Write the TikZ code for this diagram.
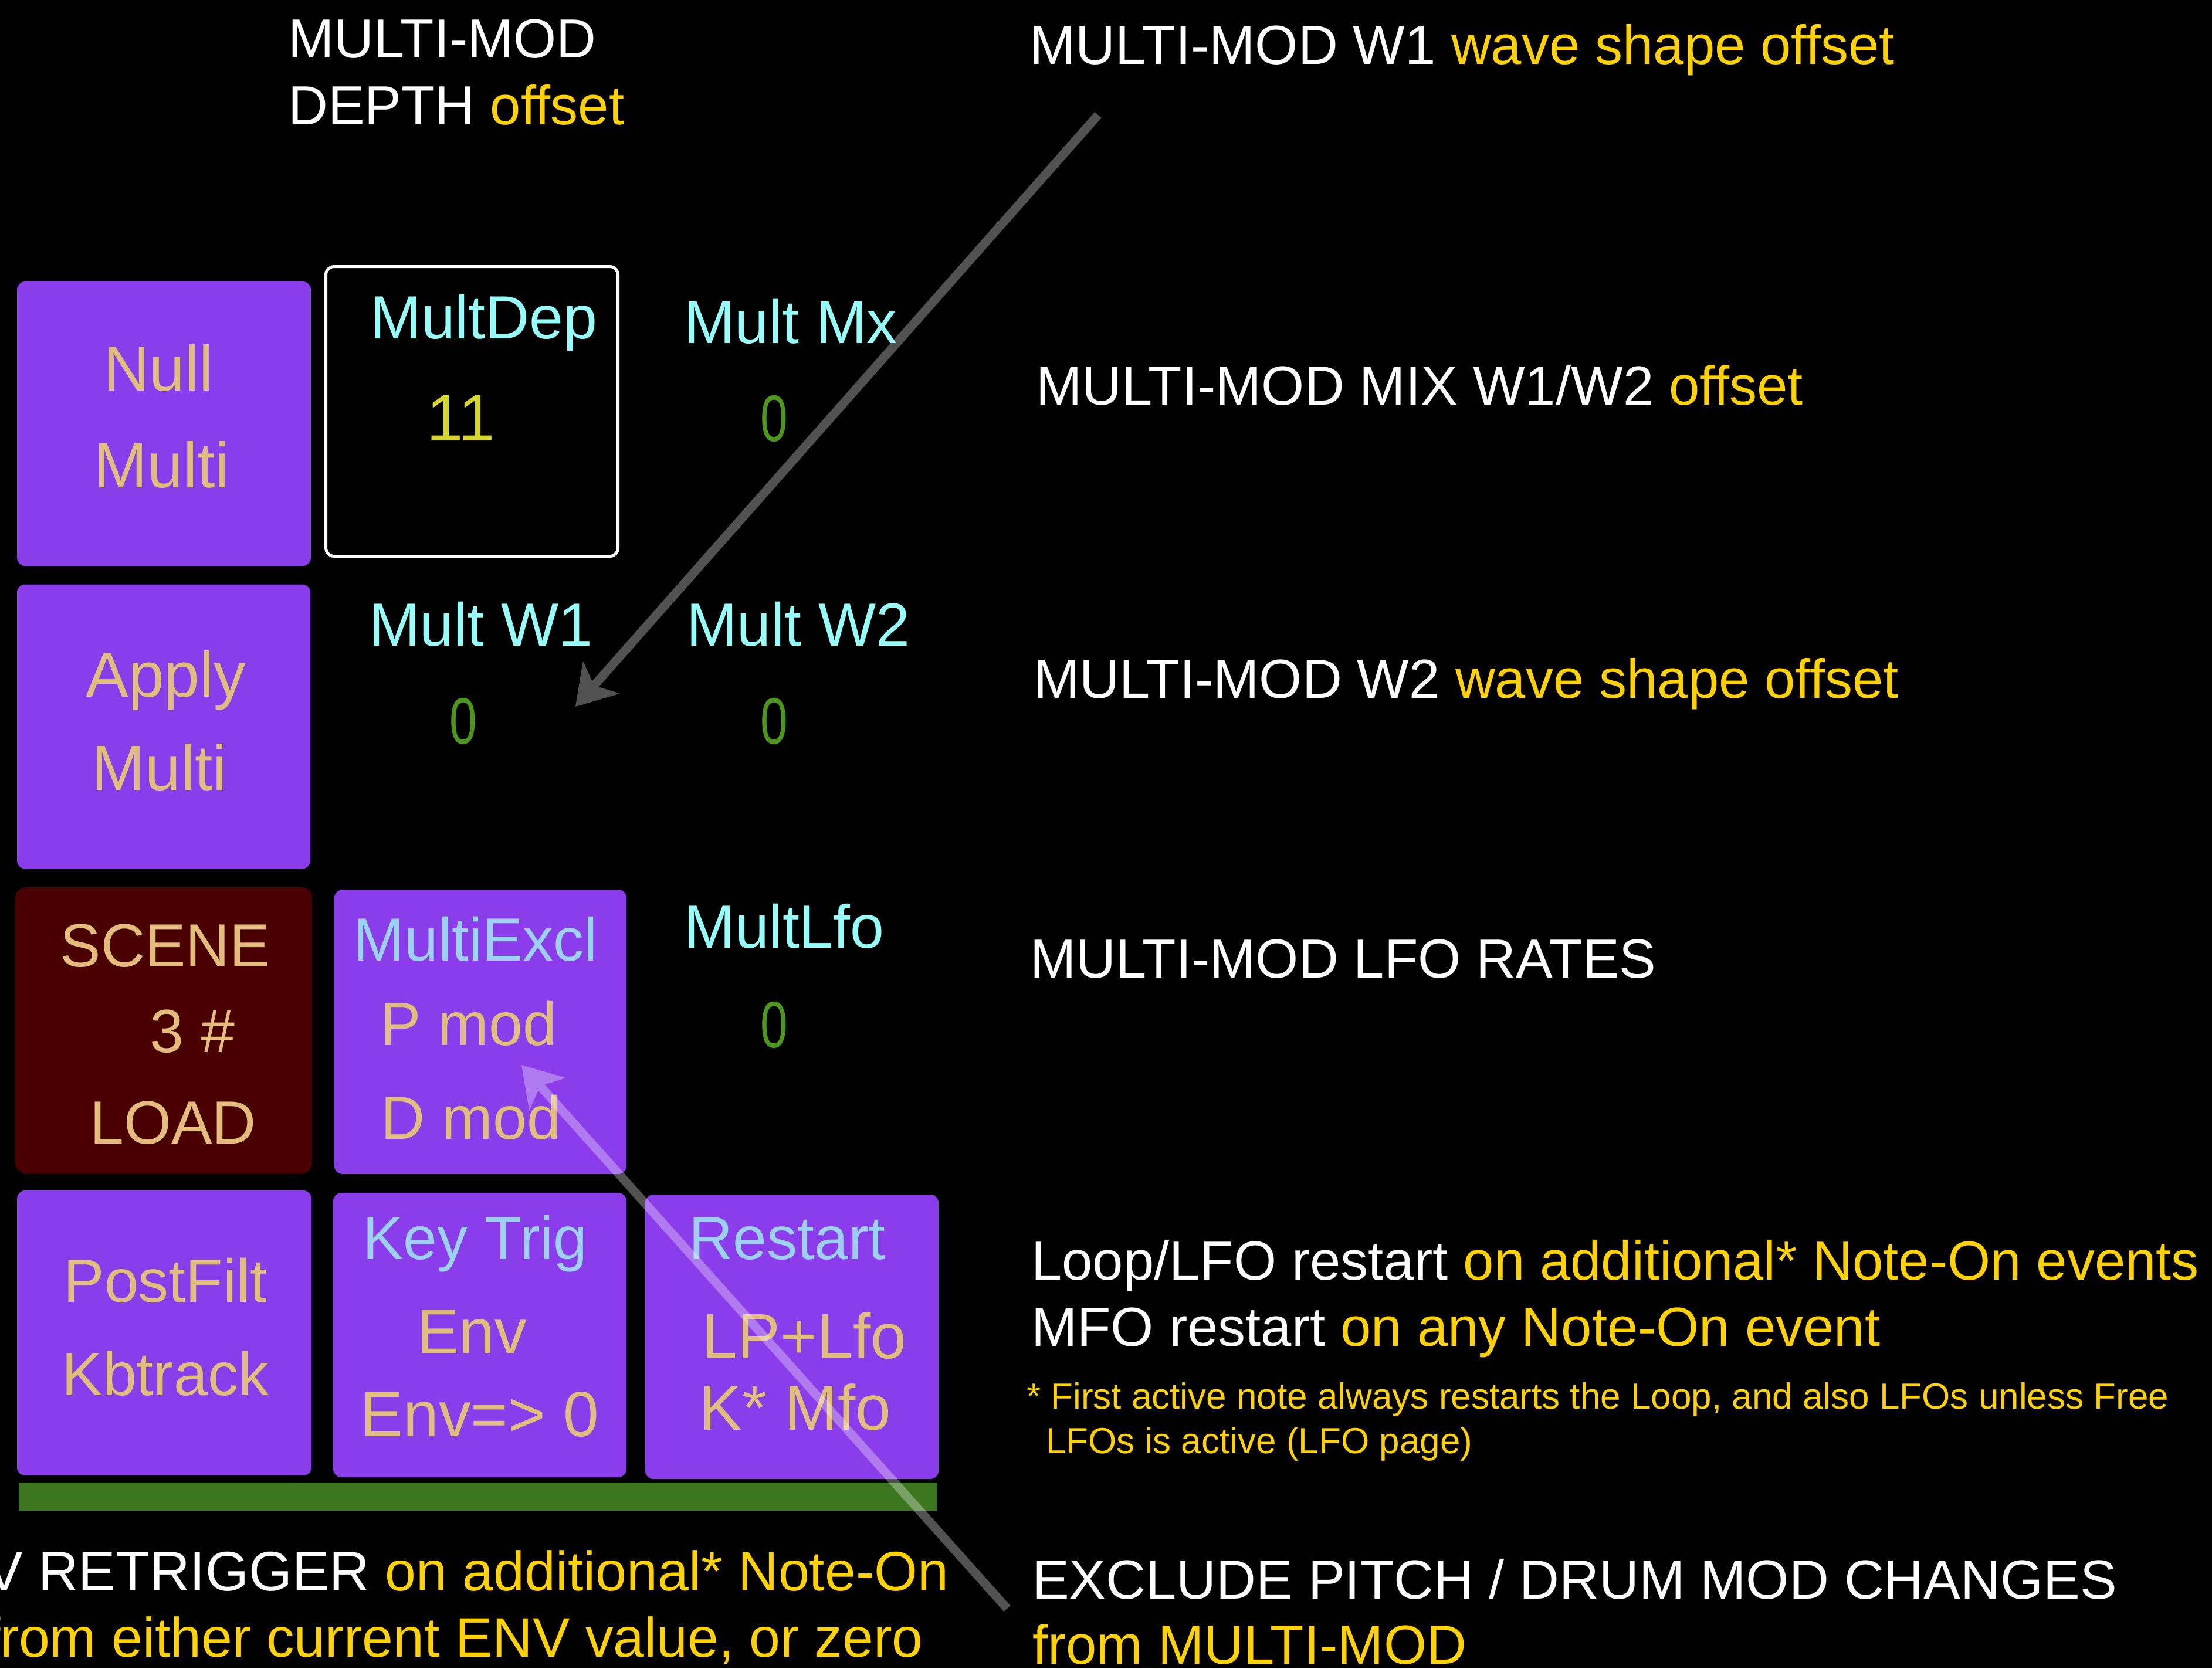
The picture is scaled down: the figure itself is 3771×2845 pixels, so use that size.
\documentclass[tikz,border=0pt]{standalone}
\usepackage{fontspec}
\usepackage{graphicx}
\setmainfont{Liberation Sans}
\usetikzlibrary{arrows.meta}
\definecolor{pbg}{RGB}{139,61,235}
\definecolor{rbg}{RGB}{75,0,0}
\definecolor{gbar}{RGB}{60,118,30}
\definecolor{tan}{RGB}{228,188,123}
\definecolor{cyanl}{RGB}{150,255,250}
\definecolor{bluel}{RGB}{155,209,242}
\definecolor{hl}{RGB}{255,210,0}
\definecolor{valg}{RGB}{78,150,30}
\definecolor{valy}{RGB}{215,215,50}
\tikzset{
  pbox/.style={fill=pbg, draw=none, rounded corners=14pt, inner sep=0pt, minimum width=500pt, minimum height=485pt},
  rbox/.style={fill=rbg, draw=none, rounded corners=18pt, inner sep=0pt, minimum width=506pt, minimum height=488pt},
  wbox/.style={fill=black, draw=white, line width=5pt, rounded corners=14pt, inner sep=0pt, minimum width=498pt, minimum height=494pt},
  lbl/.style={inner sep=0pt, anchor=base},
  big/.style={lbl, font=\fontsize{109}{120}\selectfont},
  std/.style={lbl, font=\fontsize{104}{120}\selectfont},
  val/.style={inner sep=0pt, anchor=center, font=\fontsize{112}{120}\selectfont},
  desc/.style={inner sep=0pt, anchor=base west, text=white, font=\fontsize{94}{110}\selectfont},
  descr/.style={inner sep=0pt, anchor=base east, text=white, font=\fontsize{95}{110}\selectfont},
  fnote/.style={inner sep=0pt, anchor=base west, text=hl, font=\fontsize{62}{70}\selectfont},
  hint/.style={line width=15pt, draw=white, fill=white, -{Stealth[length=66pt,width=82pt,inset=18pt]}}
}
\begin{document}
\begin{tikzpicture}[x=1pt, y=-1pt]
\useasboundingbox (0,0) rectangle (3771,2845);
\fill[black] (0,0) rectangle (3771,2845);

% boxes
\node[pbox, minimum width=501pt] (null) at (279.5,722.5) {};
\node[wbox] (multdep) at (804.5,701.5) {};
\node[pbox] (apply) at (279,1239) {};
\node[rbox] (scene) at (279,1757) {};
\node[pbox, minimum width=498pt] (multiexcl) at (819,1759.5) {};
\node[pbox, minimum width=502pt, minimum height=486pt] (postfilt) at (280,2273) {};
\node[pbox] (keytrig) at (818,2276.5) {};
\node[pbox] (restart) at (1350,2279.5) {};
\node[fill=gbar, inner sep=0pt, minimum width=1565pt, minimum height=48pt] (bar) at (814.5,2552) {};

% box texts
\node[big, text=tan] (tnull) at (270,666) {Null};
\node[big, text=tan] (tnullm) at (276,831) {Multi};
\node[std, text=cyanl] (tmultdep) at (825,577) {MultDep};
\node[val, text=valy] (vmultdep) at (786,713) {11};
\node[std, text=cyanl] (tmultmx) at (1348,585) {Mult Mx};
\node[val, text=valg] (vmultmx) at (1320,714) {\scalebox{0.75}[1]{0}};
\node[big, text=tan] (tapply) at (283,1188) {Apply};
\node[big, text=tan] (tapplym) at (272,1347) {Multi};
\node[std, text=cyanl] (tw1) at (820,1101) {Mult W1};
\node[val, text=valg] (vw1) at (790,1230) {\scalebox{0.75}[1]{0}};
\node[std, text=cyanl] (tw2) at (1361,1101) {Mult W2};
\node[val, text=valg] (vw2) at (1320,1230) {\scalebox{0.75}[1]{0}};
\node[std, text=tan] (tscene) at (282,1648) {SCENE};
\node[std, text=tan] (tscenen) at (328,1794) {3 \#};
\node[std, text=tan] (tload) at (295,1950) {LOAD};
\node[std, text=bluel] (texcl) at (811,1638) {MultiExcl};
\node[std, text=tan] (tpmod) at (799,1782) {P mod};
\node[std, text=tan] (tdmod) at (803,1942) {D mod};
\node[std, text=cyanl] (tlfo) at (1337,1616) {MultLfo};
\node[val, text=valg] (vlfo) at (1320,1748) {\scalebox{0.75}[1]{0}};
\node[std, text=tan] (tpost) at (282,2220) {PostFilt};
\node[std, text=tan] (tkb) at (282,2379) {Kbtrack};
\node[std, text=bluel] (tkey) at (810,2147) {Key Trig};
\node[big, text=tan] (tenv) at (804,2308) {Env};
\node[big, text=tan] (tenvz) at (818,2449) {Env=> 0};
\node[std, text=bluel] (trest) at (1342,2147) {Restart};
\node[big, text=tan] (tlp) at (1371,2316) {LP+Lfo};
\node[big, text=tan] (tkm) at (1356,2438) {K* Mfo};

% descriptions
\node[desc] (d1a) at (491,99) {MULTI-MOD};
\node[desc] (d1b) at (491,212) {DEPTH \textcolor{hl}{offset}};
\node[desc] (d2) at (1755,109) {MULTI-MOD W1 \textcolor{hl}{wave shape offset}};
\node[desc] (d3) at (1766,690) {MULTI-MOD MIX W1/W2 \textcolor{hl}{offset}};
\node[desc] (d4) at (1762,1190) {MULTI-MOD W2 \textcolor{hl}{wave shape offset}};
\node[desc] (d5) at (1756,1667) {MULTI-MOD LFO RATES};
\node[desc] (d6) at (1758,2182) {Loop/LFO restart \textcolor{hl}{on additional* Note-On events}};
\node[desc] (d7) at (1758,2295) {MFO restart \textcolor{hl}{on any Note-On event}};
\node[fnote] (d8) at (1750,2402) {* First active note always restarts the Loop, and also LFOs unless Free};
\node[fnote] (d9) at (1783,2478) {LFOs is active (LFO page)};
\node[desc] (d10) at (1760,2726) {EXCLUDE PITCH / DRUM MOD CHANGES};
\node[desc, text=hl] (d11) at (1760,2837) {from MULTI-MOD};
\node[descr] (d12) at (1618,2712) {V RETRIGGER \textcolor{hl}{on additional* Note-On}};
\node[descr, text=hl] (d13) at (1574,2825) {from either current ENV value, or zero};

% pointer arrows
\coordinate (w1from) at (1872,196);
\coordinate (w1to) at (981,1205);
\coordinate (exfrom) at (1717,2743);
\coordinate (exto) at (889,1816);
\begin{scope}[transparency group, opacity=0.32]
\draw[hint] (w1from) -- (w1to);
\draw[hint] (exfrom) -- (exto);
\end{scope}
\end{tikzpicture}
\end{document}
